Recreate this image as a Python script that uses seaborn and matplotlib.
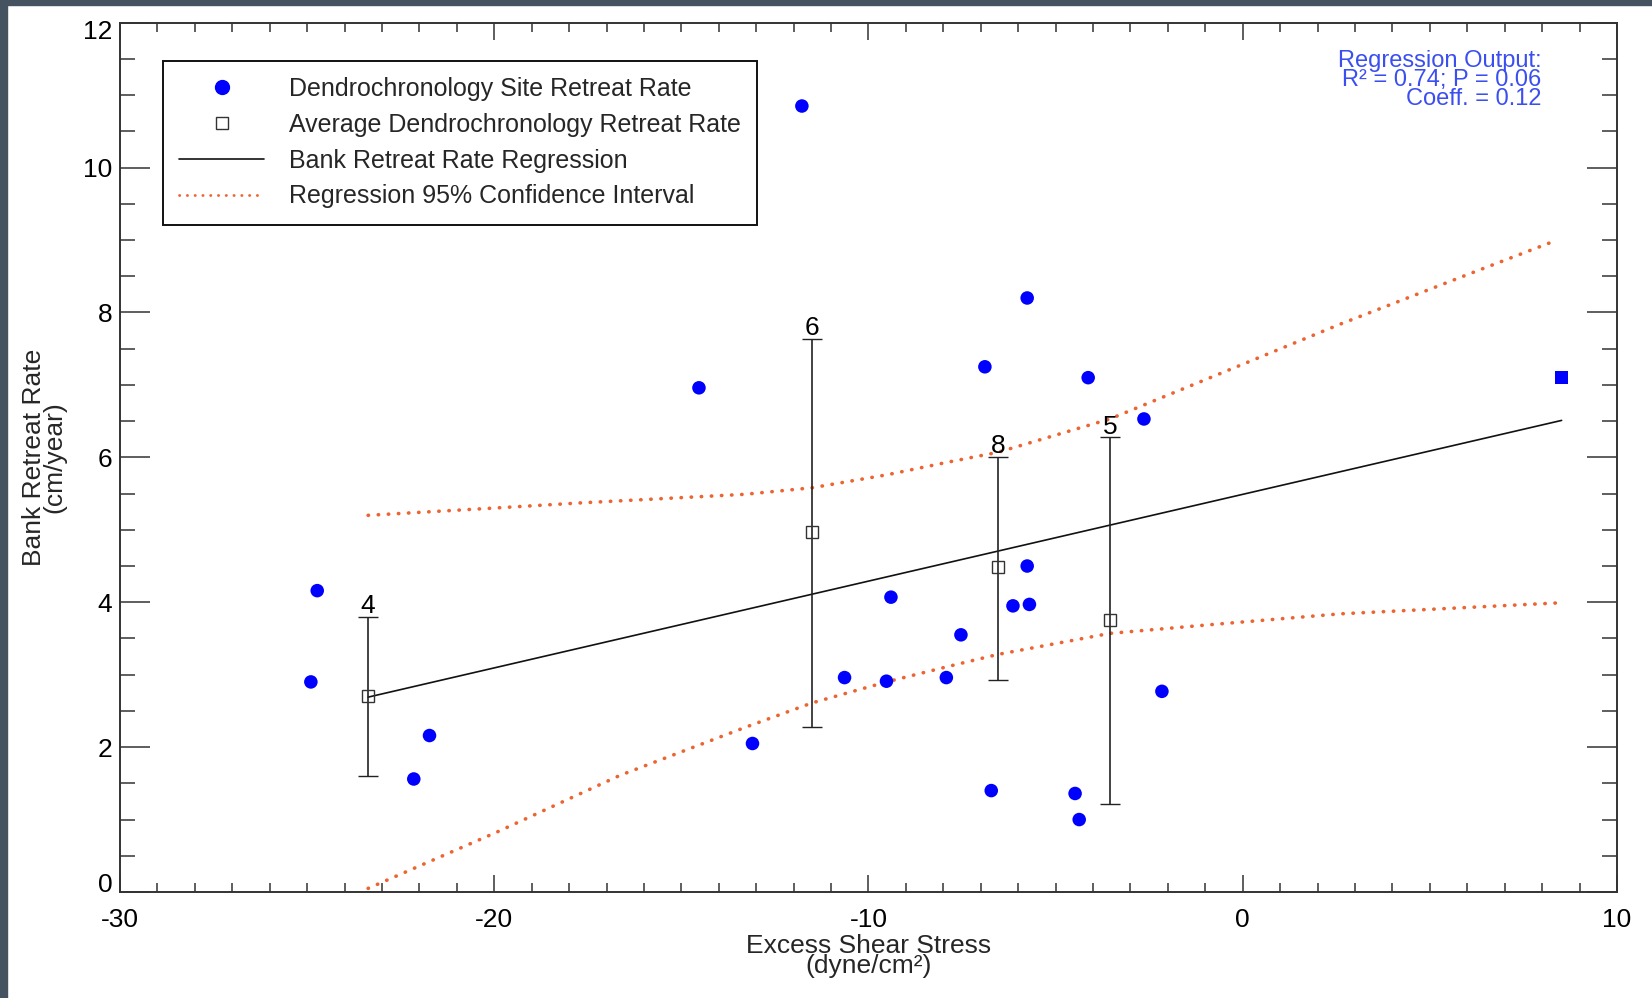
"""Bank retreat rate versus excess shear stress, with regression and 95% CI."""

import matplotlib.pyplot as plt
import pandas as pd
import seaborn as sns
from matplotlib.lines import Line2D
from matplotlib.patches import Rectangle
from matplotlib.ticker import MultipleLocator
from matplotlib.transforms import ScaledTranslation

# dendrochronology sites (the last one is drawn as a filled square)
site_x = [-24.90, -24.73, -22.15, -21.73, -14.53, -13.10, -11.78, -10.64, -9.52, -9.40, -7.92, -7.53,
          -6.89, -6.72, -6.14, -5.76, -5.76, -5.70, -4.48, -4.37, -4.13, -2.64, -2.16, 8.52]
site_y = [2.90, 4.16, 1.56, 2.16, 6.96, 2.05, 10.85, 2.96, 2.91, 4.07, 2.96, 3.55,
          7.25, 1.40, 3.95, 8.20, 4.50, 3.97, 1.36, 1.00, 7.10, 6.53, 2.77, 7.10]
site_shape = ["circle"] * 23 + ["square"]

# averaged retreat rates with their ranges and site counts
avg_x = [-23.37, -11.51, -6.54, -3.55]
avg_y = [2.70, 4.97, 4.48, 3.76]
avg_hi = [3.80, 7.64, 6.01, 6.28]
avg_lo = [1.60, 2.28, 2.93, 1.22]
avg_n = ["4", "6", "8", "5"]

# regression line end points
reg_x = [-23.37, 8.52]
reg_y = [2.69, 6.51]

# 95% confidence band
ci_up_x = [-23.37, -20.0, -17.74, -13.3, -11.51, -9.5, -7.82, -6.54, -3.55, -0.87, 2.61, 6.09, 8.40]
ci_up_y = [5.20, 5.30, 5.37, 5.49, 5.58, 5.76, 5.94, 6.07, 6.53, 7.10, 7.84, 8.54, 9.00]
ci_lo_x = [-23.37, -19.96, -16.64, -13.31, -11.51, -9.52, -7.82, -6.54, -3.55, -0.87, 2.61, 6.09, 8.40]
ci_lo_y = [0.05, 0.82, 1.61, 2.27, 2.61, 2.90, 3.12, 3.28, 3.57, 3.69, 3.84, 3.93, 3.99]

BLUE = "#0000ff"
TEXT_BLUE = "#3b4ef0"
ORANGE = "#eb6432"
DARK = "#333333"
DOTS = (0, (0.1, 2.7))

sns.set_theme(style="ticks")
plt.rcParams["font.family"] = ["Liberation Sans", "DejaVu Sans"]
plt.rcParams["axes.unicode_minus"] = False

fig = plt.figure(figsize=(16.52, 9.98), dpi=100)
fig.patch.set_facecolor("white")
# dark frame along the left and top edges
fig.patches.append(Rectangle((0, 0), 7 / 1652, 1, transform=fig.transFigure, color="#44535f", zorder=0))
fig.patches.append(Rectangle((0, 1 - 5 / 998), 1, 5 / 998, transform=fig.transFigure, color="#44535f", zorder=0))

ax = fig.add_axes([0.07264, 0.10621, 0.90617, 0.87104])

sites = pd.DataFrame({"x": site_x, "y": site_y, "shape": site_shape})
sns.scatterplot(data=sites, x="x", y="y", style="shape", markers={"circle": "o", "square": "s"},
                color=BLUE, s=95, edgecolor=BLUE, linewidth=0, legend=False, ax=ax, zorder=4)

yerr = [[m - lo for m, lo in zip(avg_y, avg_lo)], [hi - m for m, hi in zip(avg_y, avg_hi)]]
ax.errorbar(avg_x, avg_y, yerr=yerr, fmt="s", mfc="none", mec=DARK, mew=1.0, ms=8,
            ecolor="#222222", elinewidth=1.2, capsize=7, capthick=1.2, zorder=3)
for x, hi, n in zip(avg_x, avg_hi, avg_n):
    ax.annotate(n, (x, hi), xytext=(0, 2.5), textcoords="offset points",
                ha="center", va="baseline", fontsize=19, color="black")

ax.plot(reg_x, reg_y, color="#111111", lw=1.2, zorder=2)
ax.plot(ci_up_x, ci_up_y, color=ORANGE, lw=2.6, ls=DOTS, dash_capstyle="round", zorder=2)
ax.plot(ci_lo_x, ci_lo_y, color=ORANGE, lw=2.6, ls=DOTS, dash_capstyle="round", zorder=2)

ax.set_xlim(-30, 10)
ax.set_ylim(0, 12)
ax.xaxis.set_major_locator(MultipleLocator(10))
ax.xaxis.set_minor_locator(MultipleLocator(1))
ax.yaxis.set_major_locator(MultipleLocator(2))
ax.yaxis.set_minor_locator(MultipleLocator(0.5))
ax.tick_params(which="both", direction="in", top=True, right=True, colors=DARK, width=1.1,
               labelcolor="black", labelsize=19)
ax.tick_params(axis="x", which="major", length=12.2, pad=11.5)
ax.tick_params(axis="x", which="minor", length=6.5)
ax.tick_params(axis="y", which="major", length=21.5, pad=5.5)
ax.tick_params(axis="y", which="minor", length=10.5)
for spine in ax.spines.values():
    spine.set_color(DARK)
    spine.set_linewidth(1.4)

# the end labels of the y axis sit inside the axis range, as in the original
fig.canvas.draw()
for tick in ax.yaxis.get_major_ticks():
    shift = {0: 7, 12: -5}.get(round(tick.get_loc()))
    if shift is not None:
        tick.label1.set_transform(tick.label1.get_transform()
                                  + ScaledTranslation(0, shift / 72, fig.dpi_scale_trans))

ax.set_xlabel("Excess Shear Stress\n(dyne/cm²)", fontsize=19, linespacing=0.82)
ax.set_ylabel("Bank Retreat Rate\n(cm/year)", fontsize=19, linespacing=0.85)
ax.xaxis.set_label_coords(0.5, -0.048)
ax.yaxis.set_label_coords(-0.0355, 0.5)

ax.text(0.9497, 0.9053, "Regression Output:\nR² = 0.74; P = 0.06\nCoeff. = 0.12", transform=ax.transAxes,
        ha="right", va="baseline", multialignment="right", linespacing=0.83, fontsize=17, color=TEXT_BLUE)

handles = [
    Line2D([], [], marker="o", ls="none", color=BLUE, ms=10),
    Line2D([], [], marker="s", ls="none", mfc="none", mec=DARK, mew=1.0, ms=9),
    Line2D([], [], color="#111111", lw=1.2),
    Line2D([], [], color=ORANGE, lw=2.0, ls=DOTS, dash_capstyle="round"),
]
labels = [
    "Dendrochronology Site Retreat Rate",
    "Average Dendrochronology Retreat Rate",
    "Bank Retreat Rate Regression",
    "Regression 95% Confidence Interval",
]
leg = ax.legend(handles, labels, loc="upper left", bbox_to_anchor=(0.0287, 0.956), borderaxespad=0,
                fontsize=18, frameon=True, fancybox=False, shadow=False, framealpha=1,
                borderpad=0.65, handlelength=3.4, handletextpad=1.0, labelspacing=0.47)
leg.get_frame().set_edgecolor("#111111")
leg.get_frame().set_linewidth(1.4)

fig.savefig("out.png", dpi=100, facecolor="white")
